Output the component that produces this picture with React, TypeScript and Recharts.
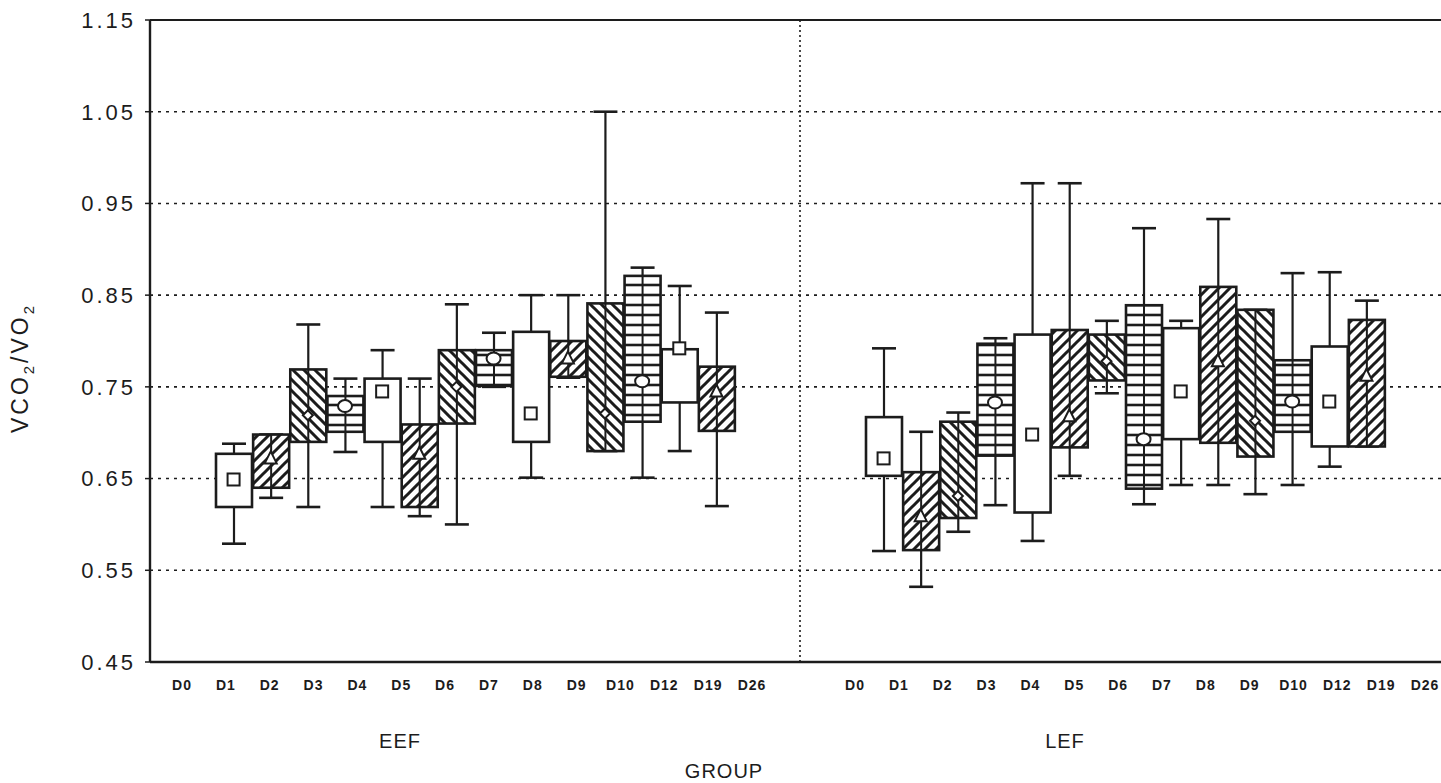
import { Bar, CartesianGrid, ComposedChart, ReferenceLine, Scatter, XAxis, YAxis } from 'recharts'

// sampling days, same for both groups
const days = ['D0', 'D1', 'D2', 'D3', 'D4', 'D5', 'D6', 'D7', 'D8', 'D9', 'D10', 'D12', 'D19', 'D26']

// EEF group: whisker min, box low, marker (mean), box high, whisker max
const eefWhiskerLow = [0.579, 0.629, 0.619, 0.679, 0.619, 0.609, 0.6, 0.75, 0.651, 0.76, 0.68, 0.651, 0.68, 0.62]
const eefBoxLow = [0.619, 0.64, 0.69, 0.701, 0.69, 0.619, 0.71, 0.751, 0.69, 0.761, 0.68, 0.712, 0.733, 0.702]
const eefMarker = [0.649, 0.672, 0.719, 0.729, 0.745, 0.677, 0.75, 0.781, 0.721, 0.781, 0.721, 0.756, 0.792, 0.745]
const eefBoxHigh = [0.677, 0.698, 0.769, 0.74, 0.759, 0.709, 0.79, 0.79, 0.81, 0.8, 0.841, 0.871, 0.791, 0.772]
const eefWhiskerHigh = [0.688, 0.698, 0.818, 0.759, 0.79, 0.759, 0.84, 0.809, 0.85, 0.85, 1.05, 0.88, 0.86, 0.831]

// LEF group
const lefWhiskerLow = [0.571, 0.532, 0.592, 0.621, 0.582, 0.653, 0.743, 0.622, 0.643, 0.643, 0.633, 0.643, 0.663, 0.685]
const lefBoxLow = [0.653, 0.572, 0.607, 0.675, 0.613, 0.684, 0.757, 0.639, 0.693, 0.689, 0.674, 0.701, 0.685, 0.685]
const lefMarker = [0.672, 0.609, 0.631, 0.733, 0.698, 0.718, 0.778, 0.693, 0.745, 0.778, 0.713, 0.734, 0.734, 0.762]
const lefBoxHigh = [0.717, 0.657, 0.712, 0.797, 0.807, 0.812, 0.807, 0.839, 0.814, 0.859, 0.834, 0.779, 0.794, 0.823]
const lefWhiskerHigh = [0.792, 0.701, 0.722, 0.803, 0.972, 0.972, 0.822, 0.923, 0.822, 0.933, 0.834, 0.874, 0.875, 0.844]

const yTicks = [0.45, 0.55, 0.65, 0.75, 0.85, 0.95, 1.05, 1.15]

// fill / marker cycle used by the original figure
const kinds = ['open', 'fwd', 'back', 'grid']

const INK = '#1c1c1c'
const FONT = '"Liberation Sans", Arial, sans-serif'

// layout of the two panels on the shared numeric x axis
const LEF_OFFSET = 17.5
const X_DOMAIN: [number, number] = [-2.25, 32.75]
const DIVIDER = 15.25
// the day labels sit on their own (narrower-spaced) scale
const LABEL_OFFSET = 15.35
const LABEL_DOMAIN: [number, number] = [-0.73, 28.92]

function buildRows(group: string, offset: number, labelOffset: number, wl: number[], bl: number[], m: number[], bh: number[], wh: number[]) {
    return days.map((day, i) => ({
        group,
        day,
        x: offset + i,
        labelX: labelOffset + i,
        whisker: [wl[i], wh[i]],
        box: [bl[i], bh[i]],
        marker: m[i],
        kind: kinds[i % 4],
    }))
}

const rows = [
    ...buildRows('EEF', 0, 0, eefWhiskerLow, eefBoxLow, eefMarker, eefBoxHigh, eefWhiskerHigh),
    ...buildRows('LEF', LEF_OFFSET, LABEL_OFFSET, lefWhiskerLow, lefBoxLow, lefMarker, lefBoxHigh, lefWhiskerHigh),
]

const labelTicks = rows.map((r) => r.labelX)

function labelFor(v: number): string {
    const i = v >= LABEL_OFFSET - 0.5 ? Math.round(v - LABEL_OFFSET) : Math.round(v)
    return days[i] ?? ''
}

function WhiskerShape(props: any) {
    const { x, y, width, height } = props
    const top = Math.min(y, y + height)
    const bottom = Math.max(y, y + height)
    const cx = x + width / 2
    return (
        <g stroke={INK} strokeWidth={2.2}>
            <line x1={cx} x2={cx} y1={top} y2={bottom} />
            <line x1={x} x2={x + width} y1={top} y2={top} strokeWidth={2.6} />
            <line x1={x} x2={x + width} y1={bottom} y2={bottom} strokeWidth={2.6} />
        </g>
    )
}

function BoxShape(props: any) {
    const { x, y, width, height, payload } = props
    const top = Math.min(y, y + height)
    const h = Math.abs(height)
    const open = payload.kind === 'open'
    return (
        <g>
            <rect x={x} y={top} width={width} height={h} fill={open ? '#fff' : `url(#pat-${payload.kind})`} />
            {!open && <line x1={x + width / 2} x2={x + width / 2} y1={top} y2={top + h} stroke={INK} strokeWidth={2} />}
            <rect x={x} y={top} width={width} height={h} fill="none" stroke={INK} strokeWidth={2.6} />
        </g>
    )
}

function MarkerShape(props: any) {
    const { cx, cy, payload } = props
    const common = { fill: '#fff', stroke: INK, strokeWidth: 2 }
    if (payload.kind === 'open') {
        return <rect x={cx - 6} y={cy - 6} width={12} height={12} {...common} />
    }
    if (payload.kind === 'fwd') {
        return <polygon points={`${cx},${cy - 7} ${cx + 6},${cy + 5} ${cx - 6},${cy + 5}`} {...common} />
    }
    if (payload.kind === 'back') {
        return <polygon points={`${cx},${cy - 5} ${cx + 5},${cy} ${cx},${cy + 5} ${cx - 5},${cy}`} {...common} />
    }
    return <ellipse cx={cx} cy={cy} rx={7} ry={6} {...common} />
}

const textStyle = { position: 'absolute' as const, fontFamily: FONT, color: INK, whiteSpace: 'nowrap' as const }

export default function App() {
    return (
        <div style={{ position: 'fixed', left: 0, top: 0, width: 1441, height: 783, overflow: 'hidden', background: '#fff' }}>
            <ComposedChart width={1450} height={783} data={rows} margin={{ top: 20, right: 0, bottom: 91, left: 0 }}>
                <defs>
                    <pattern id="pat-fwd" patternUnits="userSpaceOnUse" width={11} height={11}>
                        <rect width={11} height={11} fill="#fff" />
                        <path d="M-3,3 L3,-3 M0,11 L11,0 M8,14 L14,8" stroke={INK} strokeWidth={3} />
                    </pattern>
                    <pattern id="pat-back" patternUnits="userSpaceOnUse" width={11} height={11}>
                        <rect width={11} height={11} fill="#fff" />
                        <path d="M-3,8 L3,14 M0,0 L11,11 M8,-3 L14,3" stroke={INK} strokeWidth={3} />
                    </pattern>
                    <pattern id="pat-grid" patternUnits="userSpaceOnUse" width={10} height={10}>
                        <rect width={10} height={10} fill="#fff" />
                        <line x1={0} x2={10} y1={5} y2={5} stroke={INK} strokeWidth={2.6} />
                    </pattern>
                </defs>
                <CartesianGrid xAxisId="box" vertical={false} stroke={INK} strokeWidth={1.6} strokeDasharray="3 5" />
                <XAxis
                    xAxisId="lab"
                    dataKey="labelX"
                    type="number"
                    domain={LABEL_DOMAIN}
                    allowDataOverflow
                    ticks={labelTicks}
                    interval={0}
                    tickFormatter={labelFor}
                    tickLine={false}
                    axisLine={{ stroke: INK, strokeWidth: 2.4 }}
                    tick={{ fontSize: 14, fontWeight: 'bold', fill: INK, fontFamily: FONT, letterSpacing: 1 }}
                    tickMargin={12}
                    height={30}
                />
                <XAxis xAxisId="box" dataKey="x" type="number" domain={X_DOMAIN} allowDataOverflow hide height={0} />
                <XAxis xAxisId="wh" dataKey="x" type="number" domain={X_DOMAIN} allowDataOverflow hide height={0} />
                <YAxis
                    type="number"
                    domain={[0.45, 1.15]}
                    ticks={yTicks}
                    allowDataOverflow
                    width={150}
                    tickFormatter={(v: number) => v.toFixed(2)}
                    axisLine={{ stroke: INK, strokeWidth: 2.4 }}
                    tickLine={{ stroke: INK, strokeWidth: 1.5 }}
                    tickSize={5}
                    tickMargin={9}
                    tick={{ fontSize: 22, fill: INK, fontFamily: FONT, letterSpacing: 3 }}
                />
                <ReferenceLine xAxisId="box" y={1.15} stroke={INK} strokeWidth={2} />
                <ReferenceLine xAxisId="box" x={DIVIDER} stroke={INK} strokeWidth={1.6} strokeDasharray="2 3" />
                <Bar xAxisId="wh" dataKey="whisker" barSize={24} shape={<WhiskerShape />} isAnimationActive={false} />
                <Bar xAxisId="box" dataKey="box" barSize={36} shape={<BoxShape />} isAnimationActive={false} />
                <Scatter xAxisId="box" dataKey="marker" shape={<MarkerShape />} isAnimationActive={false} />
            </ComposedChart>
            <div style={{ ...textStyle, left: 22, top: 368, fontSize: 23, letterSpacing: 3, transform: 'translate(-50%, -50%) rotate(-90deg)' }}>
                VCO<sub style={{ fontSize: '0.65em' }}>2</sub>/VO<sub style={{ fontSize: '0.65em' }}>2</sub>
            </div>
            <div style={{ ...textStyle, left: 400, top: 741, fontSize: 20, letterSpacing: 1, transform: 'translate(-50%, -50%)' }}>EEF</div>
            <div style={{ ...textStyle, left: 1065, top: 741, fontSize: 20, letterSpacing: 1, transform: 'translate(-50%, -50%)' }}>LEF</div>
            <div style={{ ...textStyle, left: 724, top: 771, fontSize: 20, letterSpacing: 1, transform: 'translate(-50%, -50%)' }}>GROUP</div>
        </div>
    )
}
